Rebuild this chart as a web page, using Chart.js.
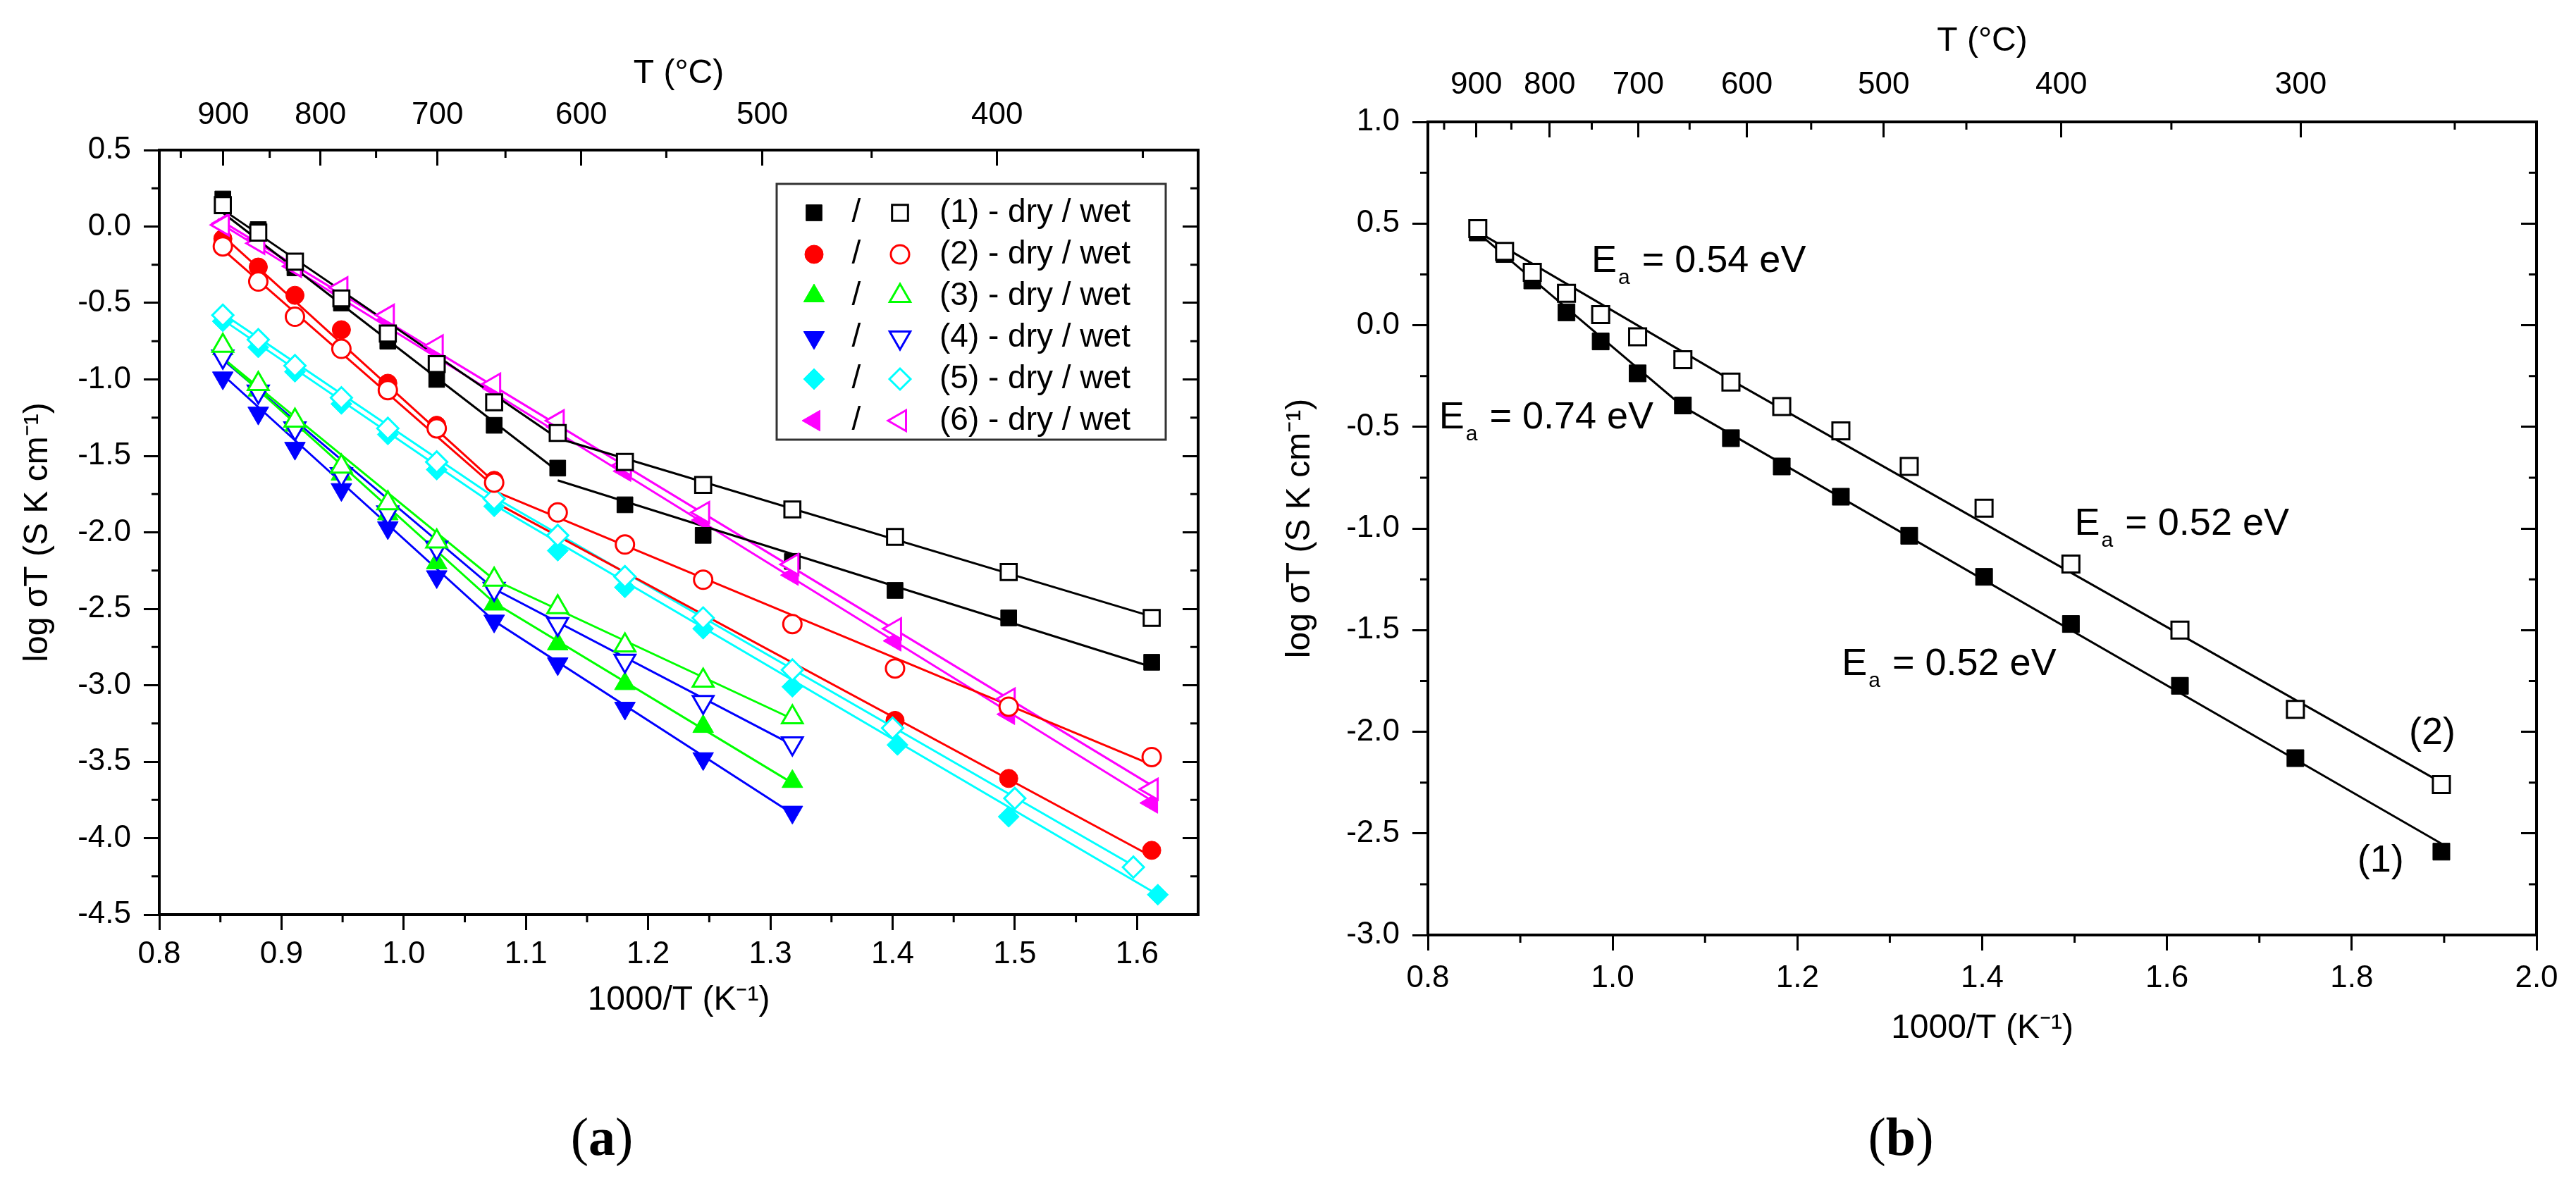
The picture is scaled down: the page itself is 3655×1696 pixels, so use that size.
<!DOCTYPE html>
<html>
<head>
<meta charset="utf-8">
<script src="https://cdn.jsdelivr.net/npm/chart.js@4.4.0/dist/chart.umd.min.js"></script>
<style>
  html, body { margin: 0; padding: 0; background: #fff; }
  body { width: 3655px; height: 1696px; position: relative; overflow: hidden; }
  .panel { position: absolute; top: 0; height: 1696px; }
  #wrapA { left: 0; width: 1800px; }
  #wrapB { left: 1800px; width: 1855px; }
</style>
</head>
<body>
<div class="panel" id="wrapA"><canvas id="chartA" width="1800" height="1696"></canvas></div>
<div class="panel" id="wrapB"><canvas id="chartB" width="1855" height="1696"></canvas></div>
<script>
// ========== PANEL (a) DATA ==========
const xA     = [0.852, 0.881, 0.911, 0.949, 0.987, 1.027, 1.074, 1.126, 1.181, 1.245, 1.318, 1.402, 1.495, 1.612];
const xA5Dry = [0.852, 0.881, 0.911, 0.949, 0.987, 1.027, 1.074, 1.126, 1.181, 1.245, 1.318, 1.404, 1.495, 1.617];
const xA5Wet = [0.852, 0.881, 0.911, 0.949, 0.987, 1.027, 1.074, 1.126, 1.181, 1.245, 1.318, 1.400, 1.500, 1.597];

const s1Dry = [0.18, -0.02, -0.27, -0.50, -0.75, -1.00, -1.30, -1.58, -1.82, -2.02, -2.19, -2.38, -2.56, -2.85];
const s1Wet = [0.14, -0.04, -0.23, -0.47, -0.70, -0.90, -1.15, -1.35, -1.54, -1.69, -1.85, -2.03, -2.26, -2.56];
const s2Dry = [-0.08, -0.265, -0.45, -0.675, -1.025, -1.30, -1.66, null, null, null, null, -3.23, -3.61, -4.08];
const s2Wet = [-0.13, -0.36, -0.59, -0.80, -1.07, -1.32, -1.675, -1.87, -2.08, -2.31, -2.60, -2.89, -3.14, -3.47];
const s3Dry = [-0.80, -1.07, -1.30, -1.62, -1.88, -2.20, -2.47, -2.73, -2.99, -3.27, -3.63, null, null, null];
const s3Wet = [-0.78, -1.03, -1.27, -1.57, -1.81, -2.06, -2.31, -2.49, -2.74, -2.97, -3.21, null, null, null];
const s4Dry = [-0.99, -1.22, -1.45, -1.72, -1.97, -2.29, -2.58, -2.86, -3.15, -3.48, -3.83, null, null, null];
const s4Wet = [-0.85, -1.08, -1.32, -1.62, -1.87, -2.10, -2.37, -2.60, -2.84, -3.11, -3.38, null, null, null];
const s5Dry = [-0.62, -0.79, -0.95, -1.16, -1.36, -1.59, -1.83, -2.12, -2.36, -2.63, -3.01, -3.39, -3.86, -4.37];
const s5Wet = [-0.58, -0.74, -0.91, -1.12, -1.32, -1.54, -1.78, -2.02, -2.29, -2.56, -2.90, -3.28, -3.74, -4.19];
const s6Dry = [0.02, -0.08, -0.24, -0.43, -0.61, -0.81, -1.06, -1.31, -1.60, -1.92, -2.28, -2.71, -3.19, -3.77];
const s6Wet = [0.01, -0.11, -0.26, -0.40, -0.58, -0.78, -1.03, -1.27, -1.56, -1.87, -2.21, -2.63, -3.09, -3.68];

// fitted lines as [x, y] end points
const fit1DryHi = [[0.852, 0.09], [1.126, -1.60]];
const fit1DryLo = [[1.126, -1.66], [1.612, -2.88]];
const fit1Wet   = [[0.852, 0.11], [1.126, -1.385], [1.612, -2.55]];
const fit2DryHi = [[0.852, -0.06], [1.074, -1.67]];
const fit2DryLo = [[1.074, -1.80], [1.612, -4.12]];
const fit2WetHi = [[0.852, -0.15], [1.074, -1.70]];
const fit2WetLo = [[1.074, -1.73], [1.612, -3.52]];
const fit3Dry   = [[0.852, -0.86], [1.074, -2.46], [1.318, -3.64]];
const fit3Wet   = [[0.852, -0.86], [1.074, -2.31], [1.318, -3.22]];
const fit4Dry   = [[0.852, -0.97], [1.074, -2.58], [1.318, -3.84]];
const fit4Wet   = [[0.852, -0.87], [1.074, -2.37], [1.318, -3.39]];
const fit5Dry   = [[0.852, -0.61], [1.074, -1.82], [1.617, -4.37]];
const fit5Wet   = [[0.852, -0.57], [1.074, -1.77], [1.597, -4.18]];
const fit6Dry   = [[0.848, 0.03], [1.615, -3.77]];
const fit6Wet   = [[0.848, 0.05], [1.615, -3.67]];

const legendNamesA = ['(1) - dry / wet', '(2) - dry / wet', '(3) - dry / wet', '(4) - dry / wet', '(5) - dry / wet', '(6) - dry / wet'];

const xTicksA = [0.8, 0.9, 1.0, 1.1, 1.2, 1.3, 1.4, 1.5, 1.6];
const xMinorA = [0.85, 0.95, 1.05, 1.15, 1.25, 1.35, 1.45, 1.55];
const yTicksA = [-4.5, -4.0, -3.5, -3.0, -2.5, -2.0, -1.5, -1.0, -0.5, 0.0, 0.5];
const yMinorA = [-4.25, -3.75, -3.25, -2.75, -2.25, -1.75, -1.25, -0.75, -0.25, 0.25];
const tTicksA = [900, 800, 700, 600, 500, 400];
const tMinorA = [950, 850, 750, 650, 550, 450, 350];

// ========== PANEL (b) DATA ==========
const xB  = [0.854, 0.883, 0.913, 0.950, 0.987, 1.027, 1.076, 1.128, 1.183, 1.247, 1.321, 1.402, 1.496, 1.614, 1.739, 1.897];
const b1 = [0.456, 0.35, 0.22, 0.063, -0.08, -0.237, -0.395, -0.556, -0.695, -0.844, -1.036, -1.238, -1.47, -1.774, -2.13, -2.59];
const b2 = [0.475, 0.363, 0.26, 0.157, 0.052, -0.057, -0.17, -0.28, -0.40, -0.52, -0.695, -0.90, -1.175, -1.50, -1.89, -2.26];
const fitB1 = [[0.850, 0.47], [1.076, -0.40], [1.897, -2.55]];
const fitB2 = [[0.850, 0.47], [1.128, -0.27], [1.897, -2.25]];

const xTicksB = [0.8, 1.0, 1.2, 1.4, 1.6, 1.8, 2.0];
const xMinorB = [0.9, 1.1, 1.3, 1.5, 1.7, 1.9];
const yTicksB = [-3.0, -2.5, -2.0, -1.5, -1.0, -0.5, 0.0, 0.5, 1.0];
const yMinorB = [-2.75, -2.25, -1.75, -1.25, -0.75, -0.25, 0.25, 0.75];
const tTicksB = [900, 800, 700, 600, 500, 400, 300];
const tMinorB = [950, 850, 750, 650, 550, 450, 350, 250];

// text notes of panel (b), anchored on data coordinates (left edge, middle)
const notesB = [
    { main: 'E', sub: 'a', rest: ' = 0.54 eV', x: 0.977, y: 0.314 },
    { main: 'E', sub: 'a', rest: ' = 0.74 eV', x: 0.812, y: -0.455 },
    { main: 'E', sub: 'a', rest: ' = 0.52 eV', x: 1.500, y: -0.979 },
    { main: 'E', sub: 'a', rest: ' = 0.52 eV', x: 1.248, y: -1.669 },
    { main: '(2)', x: 1.862, y: -2.01 },
    { main: '(1)', x: 1.806, y: -2.636 }
];

// ========== HELPERS ==========
const FONT = "'Liberation Sans', Arial, Helvetica, sans-serif";
const SERIF = "'Liberation Serif', 'Times New Roman', serif";
const invT = t => 1000 / (t + 273.15);

function toPoints(xs, ys) {
    const out = [];
    ys.forEach((v, i) => { if (v !== null) out.push({ x: xs[i], y: v }); });
    return out;
}
function segPoints(seg) {
    return seg.map(p => ({ x: p[0], y: p[1] }));
}
function markerSet(xs, ys, s, filled, order) {
    return {
        data: toPoints(xs, ys),
        showLine: false,
        pointStyle: s.style,
        pointRotation: s.rot,
        pointRadius: s.r,
        pointHoverRadius: s.r,
        pointBackgroundColor: filled ? s.color : '#ffffff',
        pointBorderColor: s.color,
        pointBorderWidth: filled ? 1 : 3,
        order: order
    };
}
function fitSet(seg, color) {
    return {
        data: segPoints(seg),
        showLine: true,
        borderColor: color,
        borderWidth: 3,
        pointRadius: 0,
        pointHoverRadius: 0,
        fill: false,
        order: 10
    };
}

function buildScales(c) {
    const tickFont = { family: FONT, size: 44 };
    const titleFont = { family: FONT, size: 48 };
    const border = { display: true, width: 4, color: '#000' };
    const grid = len => ({ drawOnChartArea: false, drawTicks: true, tickLength: len, tickWidth: 3, tickColor: '#000' });
    return {
        x: {
            type: 'linear', position: 'bottom', min: c.xMin, max: c.xMax,
            afterBuildTicks: s => { s.ticks = c.xTicks.map(v => ({ value: v })); },
            afterFit: s => { s.height = c.bottomH; },
            ticks: { font: tickFont, color: '#000', padding: c.xLabelPad, autoSkip: false, maxRotation: 0,
                     callback: v => v.toFixed(1) },
            grid: grid(22), border: border,
            title: { display: true, text: '1000/T (K⁻¹)', font: titleFont, color: '#000',
                     padding: { top: 0, bottom: c.xTitlePad } }
        },
        xTop: {
            type: 'linear', position: 'top', min: c.xMin, max: c.xMax,
            afterBuildTicks: s => { s.ticks = c.tTicks.map(t => ({ value: invT(t) })); },
            afterFit: s => { s.height = c.topH; },
            ticks: { font: tickFont, color: '#000', padding: c.topLabelPad, autoSkip: false, maxRotation: 0,
                     callback: (v, i) => String(c.tTicks[i]) },
            grid: grid(-22), border: border,
            title: { display: true, text: 'T (°C)', font: titleFont, color: '#000',
                     padding: { top: c.topTitlePad, bottom: 0 } }
        },
        y: {
            type: 'linear', position: 'left', min: c.yMin, max: c.yMax,
            afterBuildTicks: s => { s.ticks = c.yTicks.map(v => ({ value: v })); },
            afterFit: s => { s.width = c.leftW; },
            ticks: { font: tickFont, color: '#000', padding: c.yLabelPad, autoSkip: false,
                     callback: v => v.toFixed(1) },
            grid: grid(22), border: border,
            title: { display: true, text: 'log σT (S K cm⁻¹)', font: titleFont, color: '#000',
                     padding: { top: c.yTitlePad, bottom: 0 } }
        },
        yRight: {
            type: 'linear', position: 'right', min: c.yMin, max: c.yMax,
            afterBuildTicks: s => { s.ticks = c.yTicks.map(v => ({ value: v })); },
            afterFit: s => { s.width = c.rightW; },
            ticks: { display: false },
            grid: grid(-22), border: border
        }
    };
}

// minor ticks: outward on bottom/left, inward on top/right
function makeMinorTicks(spec) {
    return {
        id: 'minorTicks',
        afterDraw(chart) {
            const { ctx, chartArea: a, scales } = chart;
            const len = 11;
            ctx.save();
            ctx.strokeStyle = '#000';
            ctx.lineWidth = 3;
            ctx.beginPath();
            spec.x.forEach(v => {
                const px = scales.x.getPixelForValue(v);
                ctx.moveTo(px, a.bottom); ctx.lineTo(px, a.bottom + len);
            });
            spec.t.forEach(t => {
                const px = scales.xTop.getPixelForValue(invT(t));
                ctx.moveTo(px, a.top); ctx.lineTo(px, a.top + len);
            });
            spec.y.forEach(v => {
                const py = scales.y.getPixelForValue(v);
                ctx.moveTo(a.left, py); ctx.lineTo(a.left - len, py);
                ctx.moveTo(a.right, py); ctx.lineTo(a.right - len, py);
            });
            ctx.stroke();
            ctx.restore();
        }
    };
}

function makePanelLabel(letter, cx, cy) {
    return {
        id: 'panelLabel',
        afterDraw(chart) {
            const ctx = chart.ctx;
            ctx.save();
            ctx.fillStyle = '#000';
            ctx.textBaseline = 'middle';
            ctx.textAlign = 'left';
            const normal = `76px ${SERIF}`;
            const bold = `bold 76px ${SERIF}`;
            ctx.font = normal; const wp = ctx.measureText('(').width;
            ctx.font = bold;   const wl = ctx.measureText(letter).width;
            let x = cx - (wp * 2 + wl) / 2;
            ctx.font = normal; ctx.fillText('(', x, cy); x += wp;
            ctx.font = bold;   ctx.fillText(letter, x, cy); x += wl;
            ctx.font = normal; ctx.fillText(')', x, cy);
            ctx.restore();
        }
    };
}

// ========== PANEL (a) ==========
const seriesA = [
    { dryX: xA, dry: s1Dry, wetX: xA, wet: s1Wet, color: '#000000', style: 'rect', rot: 0, r: 16,
      fits: [fit1DryHi, fit1DryLo, fit1Wet] },
    { dryX: xA, dry: s2Dry, wetX: xA, wet: s2Wet, color: '#ff0000', style: 'circle', rot: 0, r: 13,
      fits: [fit2DryHi, fit2DryLo, fit2WetHi, fit2WetLo] },
    { dryX: xA, dry: s3Dry, wetX: xA, wet: s3Wet, color: '#00ff00', style: 'triangle', rot: 0, r: 17,
      fits: [fit3Dry, fit3Wet] },
    { dryX: xA, dry: s4Dry, wetX: xA, wet: s4Wet, color: '#0000ff', style: 'triangle', rot: 180, r: 17,
      fits: [fit4Dry, fit4Wet] },
    { dryX: xA5Dry, dry: s5Dry, wetX: xA5Wet, wet: s5Wet, color: '#00ffff', style: 'rectRot', rot: 0, r: 15,
      fits: [fit5Dry, fit5Wet] },
    { dryX: xA, dry: s6Dry, wetX: xA, wet: s6Wet, color: '#ff00ff', style: 'triangle', rot: 270, r: 17,
      fits: [fit6Dry, fit6Wet] }
];

const datasetsA = [];
seriesA.forEach(s => {
    datasetsA.push(markerSet(s.wetX, s.wet, s, false, 1));
    datasetsA.push(markerSet(s.dryX, s.dry, s, true, 2));
    s.fits.forEach(f => datasetsA.push(fitSet(f, s.color)));
});

const legendA = {
    id: 'legendA',
    afterDraw(chart) {
        const ctx = chart.ctx;
        const box = { x: 1102, y: 261, w: 552, h: 363 };
        ctx.save();
        ctx.fillStyle = '#ffffff';
        ctx.fillRect(box.x, box.y, box.w, box.h);
        ctx.strokeStyle = '#333333';
        ctx.lineWidth = 3;
        ctx.strokeRect(box.x, box.y, box.w, box.h);
        seriesA.forEach((s, i) => {
            const y = 302 + i * 59;
            const opts = { pointStyle: s.style, rotation: s.rot, radius: s.r, borderWidth: 1 };
            ctx.fillStyle = s.color; ctx.strokeStyle = s.color; ctx.lineWidth = 1;
            Chart.helpers.drawPoint(ctx, opts, 1155, y);
            ctx.fillStyle = '#ffffff'; ctx.lineWidth = 3;
            Chart.helpers.drawPoint(ctx, Object.assign({}, opts, { borderWidth: 3 }), 1277, y);
            ctx.fillStyle = '#000';
            ctx.font = `46px ${FONT}`;
            ctx.textBaseline = 'middle';
            ctx.textAlign = 'center';
            ctx.fillText('/', 1215, y);
            ctx.textAlign = 'left';
            ctx.fillText(legendNamesA[i], 1333, y);
        });
        ctx.restore();
    }
};

const cfgA = {
    xMin: 0.8, xMax: 1.65, yMin: -4.5, yMax: 0.5,
    xTicks: xTicksA, yTicks: yTicksA, tTicks: tTicksA,
    leftW: 226, rightW: 20, topH: 213, bottomH: 398,
    xLabelPad: 8, xTitlePad: 247, topLabelPad: 45, topTitlePad: 76, yLabelPad: 18, yTitlePad: 25
};

new Chart(document.getElementById('chartA'), {
    type: 'scatter',
    data: { datasets: datasetsA },
    options: {
        responsive: false,
        animation: false,
        events: [],
        layout: { padding: { left: 0, right: 80, top: 0, bottom: 0 } },
        plugins: { legend: { display: false }, tooltip: { enabled: false } },
        scales: buildScales(cfgA)
    },
    plugins: [makeMinorTicks({ x: xMinorA, y: yMinorA, t: tMinorA }), legendA, makePanelLabel('a', 854, 1619)]
});

// ========== PANEL (b) ==========
const squareB = { color: '#000000', style: 'rect', rot: 0, r: 17 };
const datasetsB = [
    markerSet(xB, b2, squareB, false, 1),
    markerSet(xB, b1, squareB, true, 2),
    fitSet(fitB1, '#000000'),
    fitSet(fitB2, '#000000')
];

const notesPlugin = {
    id: 'notesB',
    afterDatasetsDraw(chart) {
        const { ctx, scales } = chart;
        ctx.save();
        ctx.fillStyle = '#000';
        ctx.textBaseline = 'middle';
        ctx.textAlign = 'left';
        notesB.forEach(n => {
            let px = scales.x.getPixelForValue(n.x);
            const py = scales.y.getPixelForValue(n.y);
            ctx.font = `54px ${FONT}`;
            ctx.fillText(n.main, px, py);
            px += ctx.measureText(n.main).width;
            if (n.sub) {
                ctx.font = `30px ${FONT}`;
                ctx.fillText(n.sub, px + 2, py + 24);
                px += ctx.measureText(n.sub).width + 4;
                ctx.font = `54px ${FONT}`;
                ctx.fillText(n.rest, px, py);
            }
        });
        ctx.restore();
    }
};

const cfgB = {
    xMin: 0.8, xMax: 2.0, yMin: -3.0, yMax: 1.0,
    xTicks: xTicksB, yTicks: yTicksB, tTicks: tTicksB,
    leftW: 226, rightW: 20, topH: 173, bottomH: 369,
    xLabelPad: 13, xTitlePad: 207, topLabelPad: 48, topTitlePad: 30, yLabelPad: 18, yTitlePad: 16
};

new Chart(document.getElementById('chartB'), {
    type: 'scatter',
    data: { datasets: datasetsB },
    options: {
        responsive: false,
        animation: false,
        events: [],
        layout: { padding: { left: 0, right: 36, top: 0, bottom: 0 } },
        plugins: { legend: { display: false }, tooltip: { enabled: false } },
        scales: buildScales(cfgB)
    },
    plugins: [makeMinorTicks({ x: xMinorB, y: yMinorB, t: tMinorB }), notesPlugin, makePanelLabel('b', 897, 1619)]
});
</script>
</body>
</html>
